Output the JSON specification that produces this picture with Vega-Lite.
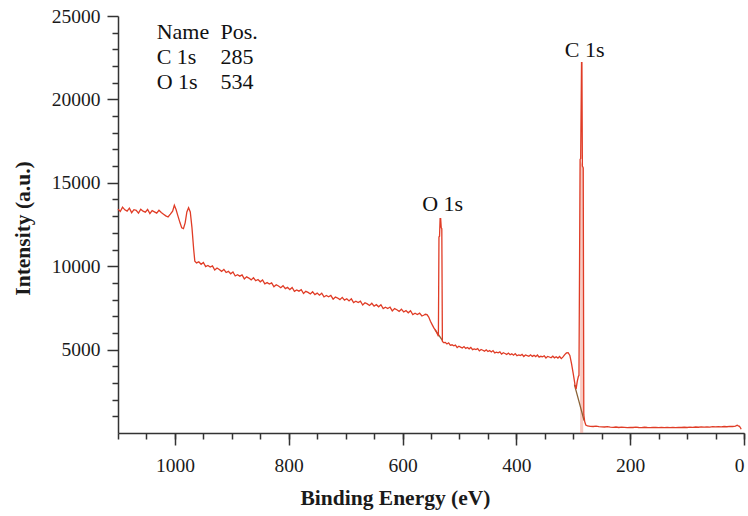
{
  "$schema": "https://vega.github.io/schema/vega-lite/v6.json",
  "width": 626,
  "height": 417,
  "autosize": {"type": "none"},
  "padding": {"left": 118, "top": 16, "right": 4, "bottom": 83},
  "background": "white",
  "config": {
    "view": {"stroke": null},
    "axis": {
      "grid": false,
      "domainColor": "#333333",
      "domainWidth": 1.5,
      "tickColor": "#333333",
      "tickWidth": 1.5,
      "labelFont": "Liberation Serif",
      "labelFontSize": 19.5,
      "labelColor": "#1a1a1a",
      "labelFlush": false,
      "labelOverlap": false,
      "labelBound": false,
      "format": "d",
      "titleFont": "Liberation Serif",
      "titleFontSize": 21.5,
      "titleFontWeight": "bold",
      "titleColor": "#1a1a1a"
    }
  },
  "datasets": {
    "spectrum": [
      {"eV":1100,"c":13420},{"eV":1096,"c":13280},{"eV":1092,"c":13540},{"eV":1088,"c":13380},{"eV":1084,"c":13300},{"eV":1080,"c":13480},{"eV":1076,"c":13210},{"eV":1072,"c":13390},{"eV":1068,"c":13350},{"eV":1064,"c":13180},{"eV":1060,"c":13420},{"eV":1056,"c":13300},{"eV":1052,"c":13240},{"eV":1048,"c":13400},{"eV":1044,"c":13150},{"eV":1040,"c":13330},{"eV":1036,"c":13260},{"eV":1032,"c":13180},{"eV":1028,"c":13350},{"eV":1024,"c":13220},{"eV":1020,"c":13120},{"eV":1016,"c":13020},{"eV":1012,"c":12950},{"eV":1008,"c":13120},{"eV":1004,"c":13300},{"eV":1001,"c":13650},{"eV":998,"c":13400},{"eV":995,"c":13050},{"eV":991,"c":12600},{"eV":988,"c":12300},{"eV":985,"c":12250},{"eV":982,"c":12600},{"eV":979,"c":13250},{"eV":976,"c":13500},{"eV":973,"c":13250},{"eV":970,"c":12300},{"eV":967,"c":11000},{"eV":965,"c":10300},{"eV":962,"c":10200},
      {"eV":958,"c":10260},{"eV":954,"c":10116},{"eV":950,"c":10222},{"eV":946,"c":9978},{"eV":942,"c":10044},{"eV":938,"c":9950},{"eV":934,"c":10016},{"eV":930,"c":9772},{"eV":926,"c":9888},{"eV":922,"c":9804},{"eV":918,"c":9690},{"eV":914,"c":9806},{"eV":910,"c":9622},{"eV":906,"c":9688},{"eV":902,"c":9544},{"eV":898,"c":9652},{"eV":894,"c":9415},{"eV":890,"c":9489},{"eV":886,"c":9403},{"eV":882,"c":9476},{"eV":878,"c":9240},{"eV":874,"c":9363},{"eV":870,"c":9287},{"eV":866,"c":9181},{"eV":862,"c":9304},{"eV":858,"c":9128},{"eV":854,"c":9201},{"eV":850,"c":9065},{"eV":846,"c":9179},{"eV":842,"c":8942},{"eV":838,"c":9016},{"eV":834,"c":8929},{"eV":830,"c":9003},{"eV":826,"c":8767},{"eV":822,"c":8890},{"eV":818,"c":8814},{"eV":814,"c":8707},{"eV":810,"c":8831},{"eV":806,"c":8655},{"eV":802,"c":8728},{"eV":798,"c":8597},{"eV":794,"c":8721},{"eV":790,"c":8495},{"eV":786,"c":8579},{"eV":782,"c":8503},{"eV":778,"c":8587},{"eV":774,"c":8361},{"eV":770,"c":8495},{"eV":766,"c":8429},{"eV":762,"c":8333},{"eV":758,"c":8467},{"eV":754,"c":8301},{"eV":750,"c":8385},{"eV":746,"c":8259},{"eV":742,"c":8383},{"eV":738,"c":8157},{"eV":734,"c":8241},{"eV":730,"c":8165},{"eV":726,"c":8249},{"eV":722,"c":8023},{"eV":718,"c":8157},{"eV":714,"c":8091},{"eV":710,"c":7995},{"eV":706,"c":8129},{"eV":702,"c":7963},{"eV":698,"c":8046},{"eV":694,"c":7919},{"eV":690,"c":8042},{"eV":686,"c":7815},{"eV":682,"c":7898},{"eV":678,"c":7820},{"eV":674,"c":7903},{"eV":670,"c":7676},{"eV":666,"c":7809},{"eV":662,"c":7742},{"eV":658,"c":7644},{"eV":654,"c":7777},{"eV":650,"c":7610},{"eV":646,"c":7693},{"eV":642,"c":7566},{"eV":638,"c":7688},{"eV":634,"c":7461},{"eV":630,"c":7544},{"eV":626,"c":7467},{"eV":622,"c":7550},{"eV":618,"c":7322},{"eV":614,"c":7455},{"eV":610,"c":7388},{"eV":606,"c":7291},{"eV":602,"c":7424},{"eV":598,"c":7255},{"eV":594,"c":7336},{"eV":590,"c":7207},{"eV":586,"c":7328},{"eV":582,"c":7099},{"eV":578,"c":7180},{"eV":574,"c":7101},{"eV":570,"c":7182},{"eV":566,"c":7013},{"eV":563,"c":7060},
      {"eV":560,"c":7120},{"eV":557,"c":7100},{"eV":554,"c":6950},{"eV":551,"c":6700},{"eV":548,"c":6500},{"eV":545,"c":6300},{"eV":542,"c":6150},{"eV":539,"c":5950},{"eV":537,"c":5800},{"eV":536,"c":11750},{"eV":535,"c":11800},{"eV":534,"c":12850},{"eV":533,"c":12850},{"eV":532,"c":12300},{"eV":531,"c":12250},{"eV":530,"c":5500},{"eV":528,"c":5420},
      {"eV":525,"c":5432},{"eV":522,"c":5334},{"eV":519,"c":5406},{"eV":516,"c":5258},{"eV":513,"c":5290},{"eV":510,"c":5232},{"eV":507,"c":5274},{"eV":504,"c":5126},{"eV":501,"c":5199},{"eV":498,"c":5150},{"eV":495,"c":5095},{"eV":492,"c":5181},{"eV":489,"c":5076},{"eV":486,"c":5131},{"eV":483,"c":5047},{"eV":480,"c":5132},{"eV":477,"c":4997},{"eV":474,"c":5043},{"eV":471,"c":4998},{"eV":468,"c":5054},{"eV":465,"c":4920},{"eV":462,"c":5005},{"eV":459,"c":4960},{"eV":456,"c":4905},{"eV":453,"c":4990},{"eV":450,"c":4885},{"eV":447,"c":4940},{"eV":444,"c":4855},{"eV":441,"c":4940},{"eV":438,"c":4805},{"eV":435,"c":4850},{"eV":432,"c":4805},{"eV":429,"c":4860},{"eV":426,"c":4725},{"eV":423,"c":4810},{"eV":420,"c":4765},{"eV":417,"c":4710},{"eV":414,"c":4795},{"eV":411,"c":4690},{"eV":408,"c":4745},{"eV":405,"c":4666},{"eV":402,"c":4759},{"eV":399,"c":4633},{"eV":396,"c":4686},{"eV":393,"c":4649},{"eV":390,"c":4713},{"eV":387,"c":4586},{"eV":384,"c":4680},{"eV":381,"c":4643},{"eV":378,"c":4596},{"eV":375,"c":4690},{"eV":372,"c":4593},{"eV":369,"c":4656},{"eV":366,"c":4580},{"eV":363,"c":4673},{"eV":360,"c":4546},{"eV":357,"c":4600},{"eV":354,"c":4563},{"eV":351,"c":4627},{"eV":348,"c":4500},{"eV":345,"c":4593},{"eV":342,"c":4557},{"eV":339,"c":4510},{"eV":336,"c":4603},{"eV":333,"c":4507},{"eV":330,"c":4570},{"eV":327,"c":4493},{"eV":324,"c":4587},{"eV":321,"c":4460},
      {"eV":318,"c":4560},{"eV":315,"c":4700},{"eV":312,"c":4800},{"eV":309,"c":4820},{"eV":306,"c":4650},{"eV":303,"c":4150},{"eV":300,"c":3550},{"eV":297,"c":2900},{"eV":295,"c":2650},{"eV":293,"c":3100},{"eV":291,"c":3400},{"eV":290,"c":3450},{"eV":288,"c":16400},{"eV":287,"c":16450},{"eV":285.5,"c":22200},{"eV":284.8,"c":22200},{"eV":284,"c":16000},{"eV":282.5,"c":15900},{"eV":281.5,"c":1100},{"eV":280,"c":700},{"eV":278,"c":480},{"eV":275,"c":420},{"eV":270,"c":400},{"eV":265,"c":390},{"eV":260,"c":410},{"eV":255,"c":380},{"eV":250,"c":370},{"eV":245,"c":360},{"eV":240,"c":380},{"eV":235,"c":350},{"eV":230,"c":340},{"eV":225,"c":360},{"eV":220,"c":330},{"eV":215,"c":350},{"eV":210,"c":340},{"eV":205,"c":320},{"eV":200,"c":340},{"eV":195,"c":330},{"eV":190,"c":350},{"eV":185,"c":330},{"eV":180,"c":320},{"eV":175,"c":345},{"eV":170,"c":330},{"eV":165,"c":320},{"eV":160,"c":340},{"eV":155,"c":330},{"eV":150,"c":320},{"eV":145,"c":335},{"eV":140,"c":320},{"eV":135,"c":340},{"eV":130,"c":325},{"eV":125,"c":335},{"eV":120,"c":320},{"eV":115,"c":340},{"eV":110,"c":330},{"eV":105,"c":345},{"eV":100,"c":330},{"eV":95,"c":350},{"eV":90,"c":335},{"eV":85,"c":360},{"eV":80,"c":345},{"eV":75,"c":365},{"eV":70,"c":350},{"eV":65,"c":370},{"eV":60,"c":355},{"eV":55,"c":380},{"eV":50,"c":365},{"eV":45,"c":385},{"eV":40,"c":370},{"eV":35,"c":390},{"eV":30,"c":375},{"eV":25,"c":400},{"eV":20,"c":390},{"eV":15,"c":410},{"eV":12,"c":470},{"eV":10,"c":430},{"eV":8,"c":400},{"eV":6,"c":300},{"eV":5,"c":220}
    ],
    "background": [
      {"seg":"O","eV":543,"c":6200},{"seg":"O","eV":530,"c":5550},
      {"seg":"C","eV":298,"c":2900},{"seg":"C","eV":290,"c":1900},{"seg":"C","eV":281,"c":750}
    ],
    "fill": [
      {"eV":288,"c":16400},{"eV":282.5,"c":15900}
    ],
    "table": [
      {"eV":1032,"c":23600,"t":"Name"},{"eV":920,"c":23600,"t":"Pos."},
      {"eV":1032,"c":22100,"t":"C 1s"},{"eV":920,"c":22100,"t":"285"},
      {"eV":1032,"c":20600,"t":"O 1s"},{"eV":920,"c":20600,"t":"534"}
    ],
    "peaks": [
      {"eV":280,"c":22520,"t":"C 1s"},{"eV":529.5,"c":13330,"t":"O 1s"}
    ]
  },
  "layer": [
    {
      "data": {"name": "fill"},
      "mark": {"type": "area", "color": "#f08a78", "opacity": 0.45},
      "encoding": {
        "x": {"field": "eV", "type": "quantitative", "scale": {"domain": [0, 1100], "reverse": true, "nice": false, "zero": false}, "axis": null},
        "y": {"field": "c", "type": "quantitative", "scale": {"domain": [0, 25000], "nice": false}, "axis": null}
      }
    },
    {
      "data": {"name": "background"},
      "mark": {"type": "line", "color": "#8a6236", "strokeWidth": 1.3},
      "encoding": {
        "x": {"field": "eV", "type": "quantitative", "axis": {"orient": "bottom", "values": [0,50,100,150,200,250,300,350,400,450,500,550,600,650,700,750,800,850,900,950,1000,1050,1100], "tickSize": 6, "labels": false, "domain": false, "title": null}},
        "y": {"field": "c", "type": "quantitative", "axis": {"orient": "left", "values": [1000,2000,3000,4000,6000,7000,8000,9000,11000,12000,13000,14000,16000,17000,18000,19000,21000,22000,23000,24000], "tickSize": 6, "labels": false, "domain": false, "title": null}},
        "detail": {"field": "seg", "type": "nominal"}
      }
    },
    {
      "data": {"name": "spectrum"},
      "mark": {"type": "line", "color": "#e03c26", "strokeWidth": 1.3},
      "encoding": {
        "x": {"field": "eV", "type": "quantitative", "axis": {"orient": "bottom", "values": [0,200,400,600,800,1000], "tickSize": 12, "labelPadding": 11, "labelAlign": {"condition": {"test": "datum.value === 0", "value": "right"}, "value": "center"}, "title": "Binding Energy (eV)", "titleX": 277, "titleY": 71, "titleBaseline": "alphabetic", "titleAlign": "center"}},
        "y": {"field": "c", "type": "quantitative", "axis": {"orient": "left", "values": [5000,10000,15000,20000,25000], "tickSize": 11, "labelPadding": 7, "title": "Intensity (a.u.)", "titleX": -89, "titleY": 212, "titleBaseline": "alphabetic", "titleAlign": "center", "titleAngle": 270}}
      }
    },
    {
      "data": {"name": "table"},
      "mark": {"type": "text", "align": "left", "baseline": "alphabetic", "font": "Liberation Serif", "fontSize": 22, "color": "#111111"},
      "encoding": {
        "x": {"field": "eV", "type": "quantitative", "axis": null},
        "y": {"field": "c", "type": "quantitative", "axis": null},
        "text": {"field": "t"}
      }
    },
    {
      "data": {"name": "peaks"},
      "mark": {"type": "text", "align": "center", "baseline": "alphabetic", "font": "Liberation Serif", "fontSize": 22, "color": "#111111"},
      "encoding": {
        "x": {"field": "eV", "type": "quantitative", "axis": null},
        "y": {"field": "c", "type": "quantitative", "axis": null},
        "text": {"field": "t"}
      }
    }
  ],
  "resolve": {"axis": {"x": "independent", "y": "independent"}}
}
